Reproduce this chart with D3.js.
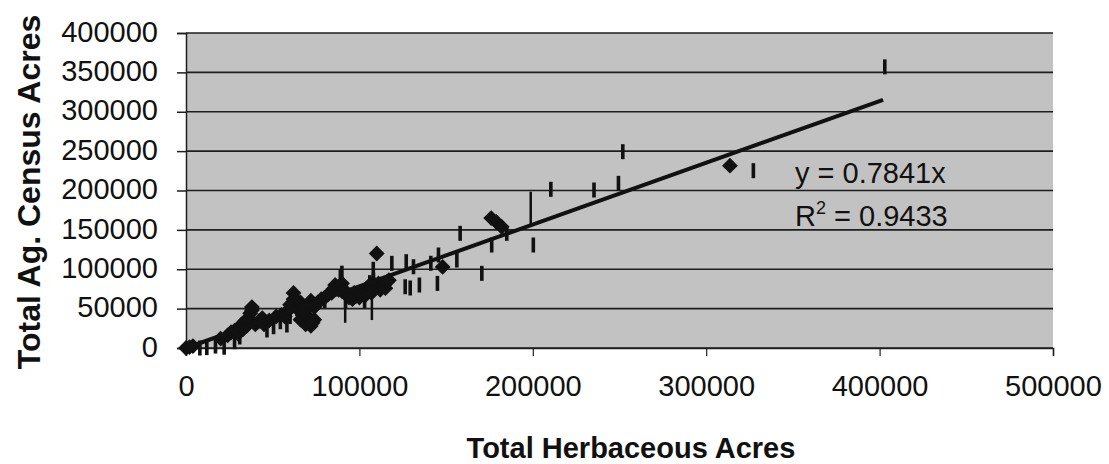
<!DOCTYPE html>
<html>
<head>
<meta charset="utf-8">
<script src="https://cdn.jsdelivr.net/npm/d3@7"></script>
<style>
  html, body { margin: 0; padding: 0; background: #fff; }
  svg { display: block; font-family: "Liberation Sans", Arial, sans-serif; }
</style>
</head>
<body>
<svg id="chart" width="1109" height="464"></svg>
<script>
// ---- data ----
const xTicks = [0, 100000, 200000, 300000, 400000, 500000];
const yTicks = [0, 50000, 100000, 150000, 200000, 250000, 300000, 350000, 400000];
const slope = 0.7841;
const rSquared = 0.9433;
const trendRange = [0, 402000];

// diamond markers [herbaceous, census]
const diamonds = [
  [0, 0], [2000, 1000], [4000, 2500], [20000, 12000], [24000, 16000], [26000, 20000],
  [28000, 22000], [30000, 18000], [32000, 30000], [33000, 24000], [34000, 34000], [35000, 28000],
  [36000, 38000], [37000, 44000], [38000, 48000], [38000, 52000], [40000, 30000], [42000, 34000], [44000, 38000],
  [45000, 30000], [48000, 35000], [52000, 40000], [55000, 42000], [57000, 40000], [58000, 46000],
  [60000, 50000], [60000, 55000], [62000, 62000], [62000, 70000], [63000, 55000], [64000, 60000],
  [65000, 48000], [66000, 58000], [66000, 36000], [67000, 52000], [68000, 45000], [69000, 48000],
  [69000, 30000], [70000, 40000], [71600, 35500], [72000, 60000], [72000, 28000], [73000, 32000],
  [74000, 36000], [74000, 52000], [75000, 55000], [76000, 58000], [78000, 62000], [80000, 64000],
  [82000, 68000], [84000, 70000], [85000, 75000], [86000, 80000], [88000, 78000], [88000, 74000],
  [90000, 82000], [90000, 72000], [92000, 72000], [93000, 68000], [94000, 64000], [96000, 62000],
  [97000, 70000], [98000, 66000], [100000, 64000], [100000, 70000], [102000, 70000], [103000, 66000],
  [104000, 72000], [105000, 78000], [106000, 74000], [107000, 70000], [108000, 76000], [109000, 80000],
  [110000, 78000], [111000, 82000], [112000, 74000], [113000, 78000], [114000, 80000], [115000, 76000],
  [116000, 84000], [117000, 86000], [110000, 120000], [148000, 103000], [176000, 165000],
  [179000, 160000], [182000, 154000], [313700, 231500]
];

// short vertical dash markers [herbaceous, census]
const dashes = [
  [8000, 0], [12000, 500], [17000, 2500], [22000, 1000], [28000, 8000], [31000, 14000],
  [46700, 22900], [50500, 27000], [54400, 33400], [58200, 29200], [60000, 40000], [64000, 50000],
  [80000, 60000], [89000, 90000], [89900, 95000], [92000, 60000], [103000, 60000], [106000, 83000],
  [108000, 100000], [108100, 86300], [118700, 107500], [126400, 77800], [127000, 109600],
  [129300, 76200], [131200, 103200], [134600, 80000], [141200, 107600], [145600, 118100],
  [145000, 82000], [156200, 111700], [158100, 145600], [170600, 94800], [176300, 130800],
  [185000, 145600], [200300, 130800], [210400, 201500], [235300, 200600], [249400, 209100],
  [251900, 249300], [327200, 225200], [403000, 357000]
];

// long vertical spans [herbaceous, censusLow, censusHigh]
const spans = [
  [91800, 32000, 60000], [107200, 35500, 90000], [198800, 154000, 198500]
];

// ---- layout ----
const svg = d3.select("#chart");
const plot = { left: 186, right: 1053, top: 33, bottom: 348 };
const x = d3.scaleLinear().domain([0, 500000]).range([plot.left, plot.right]);
const y = d3.scaleLinear().domain([0, 400000]).range([plot.bottom, plot.top]);

// plot background
svg.append("rect")
  .attr("x", plot.left).attr("y", plot.top)
  .attr("width", plot.right - plot.left).attr("height", plot.bottom - plot.top)
  .attr("fill", "#c2c2c2");

// gridlines
svg.append("g").selectAll("line").data(yTicks).join("line")
  .attr("x1", plot.left).attr("x2", plot.right)
  .attr("y1", d => y(d)).attr("y2", d => y(d))
  .attr("stroke", "#1e1e1e").attr("stroke-width", 1.6);

// y axis
const yAxis = svg.append("g")
  .attr("transform", `translate(${plot.left},0)`)
  .call(d3.axisLeft(y).tickValues(yTicks).tickFormat(d3.format("d")).tickSize(9).tickPadding(19));
yAxis.select(".domain").attr("stroke", "#1e1e1e").attr("stroke-width", 1.5);
yAxis.selectAll(".tick line").attr("stroke", "#1e1e1e").attr("stroke-width", 1.5);
yAxis.selectAll(".tick text")
  .attr("font-size", 29).attr("fill", "#111").attr("dy", "0.28em")
  .attr("font-family", "'Liberation Sans', Arial, sans-serif");

// x axis
const xAxis = svg.append("g")
  .attr("transform", `translate(0,${plot.bottom})`)
  .call(d3.axisBottom(x).tickValues(xTicks).tickFormat(d3.format("d")).tickSize(8).tickPadding(19));
xAxis.select(".domain").attr("stroke", "#1e1e1e").attr("stroke-width", 1.5);
xAxis.selectAll(".tick line").attr("stroke", "#1e1e1e").attr("stroke-width", 1.2);
xAxis.selectAll(".tick text")
  .attr("font-size", 29).attr("fill", "#111")
  .attr("font-family", "'Liberation Sans', Arial, sans-serif");

// clip
svg.append("clipPath").attr("id", "clip").append("rect")
  .attr("x", plot.left - 10).attr("y", plot.top)
  .attr("width", plot.right - plot.left + 10).attr("height", plot.bottom - plot.top + 10);
const marks = svg.append("g").attr("clip-path", "url(#clip)");

// spans
marks.append("g").selectAll("line").data(spans).join("line")
  .attr("x1", d => x(d[0])).attr("x2", d => x(d[0]))
  .attr("y1", d => y(d[1])).attr("y2", d => y(d[2]))
  .attr("stroke", "#111").attr("stroke-width", 2.5);

// dashes
marks.append("g").selectAll("rect").data(dashes).join("rect")
  .attr("x", d => x(d[0]) - 1.8).attr("y", d => y(d[1]) - 7.5)
  .attr("width", 3.6).attr("height", 15)
  .attr("fill", "#111");

// diamonds
const diamond = d3.symbol().type(d3.symbolSquare).size(125);
marks.append("g").selectAll("path").data(diamonds).join("path")
  .attr("d", diamond)
  .attr("transform", d => `translate(${x(d[0])},${y(d[1])}) rotate(45)`)
  .attr("fill", "#111");

// trend line
marks.append("path")
  .datum(trendRange.map(v => [v, v * slope]))
  .attr("d", d3.line().x(d => x(d[0])).y(d => y(d[1])))
  .attr("stroke", "#111").attr("stroke-width", 4).attr("fill", "none");

// equation
svg.append("text").attr("x", 795).attr("y", 183)
  .attr("font-size", 29).attr("fill", "#111")
  .text(`y = ${slope}x`);
const r2 = svg.append("text").attr("x", 795).attr("y", 226)
  .attr("font-size", 29).attr("fill", "#111");
r2.append("tspan").text("R");
r2.append("tspan").attr("font-size", 18).attr("dy", -12).text("2");
r2.append("tspan").attr("dy", 12).text(` = ${rSquared}`);

// axis titles
svg.append("text")
  .attr("x", 631).attr("y", 458)
  .attr("text-anchor", "middle").attr("font-weight", "bold").attr("font-size", 29)
  .attr("fill", "#111")
  .text("Total Herbaceous Acres");
svg.append("text")
  .attr("transform", "translate(40,192) rotate(-90)")
  .attr("text-anchor", "middle").attr("font-weight", "bold").attr("font-size", 32)
  .attr("fill", "#111")
  .text("Total Ag. Census Acres");
</script>
</body>
</html>
